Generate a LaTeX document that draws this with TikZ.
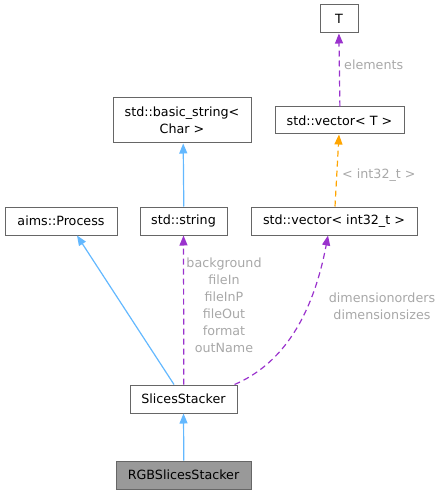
\documentclass[tikz,border=0pt]{standalone}
\usepackage{fontspec}
\setmainfont{DejaVu Sans}
\usetikzlibrary{arrows.meta}
\definecolor{boxborder}{HTML}{666666}
\definecolor{inhblue}{HTML}{63B8FF}
\definecolor{usepurple}{HTML}{9A32CD}
\definecolor{tplorange}{HTML}{FFA500}
\definecolor{lblgray}{HTML}{A8A8A8}
\definecolor{curfill}{HTML}{999999}
\tikzset{
  cls/.style={draw=boxborder, line width=1pt, fill=white, inner sep=0pt, align=center,
    font=\fontsize{12.7}{17}\selectfont, text=black},
  inh/.style={draw=inhblue, line width=1.2pt, -{Triangle[length=10pt,width=8pt,fill=inhblue]}},
  use/.style={draw=usepurple, line width=1.2pt, dash pattern=on 6pt off 4pt, -{Triangle[length=10pt,width=8pt,fill=usepurple]}},
  tpl/.style={draw=tplorange, line width=1.2pt, dash pattern=on 6pt off 4pt, -{Triangle[length=10pt,width=8pt,fill=tplorange]}},
  lbl/.style={text=lblgray, font=\fontsize{12.7}{17}\selectfont, inner sep=0pt, align=center},
}
\begin{document}
\begin{tikzpicture}[x=1pt,y=-1pt]
\useasboundingbox (0,0) rectangle (442,494);
\node[cls, minimum width=38pt, minimum height=28pt] (T) at (339,19) {T};
\node[cls, minimum width=129pt, minimum height=27pt] (vecT) at (339.5,120.5) {std::vector< T >};
\node[cls, minimum width=138pt, minimum height=45pt] (bstr) at (182,120.5) {std::basic\_string<\\Char >};
\node[cls, minimum width=112pt, minimum height=28pt] (proc) at (61,221) {aims::Process};
\node[cls, minimum width=87pt, minimum height=28pt] (str) at (183.5,221) {std::string};
\node[cls, minimum width=166pt, minimum height=28pt] (vecI) at (334,221) {std::vector< int32\_t >};
\node[cls, minimum width=107pt, minimum height=28pt] (sl) at (183.5,399) {SlicesStacker};
\node[cls, fill=curfill, minimum width=135pt, minimum height=28pt] (rgb) at (183.5,475) {RGBSlicesStacker};

\draw[use] ([xshift=0.4pt]vecT.north) -- ([xshift=-0.1pt]T.south);
\node[lbl, anchor=west] (lelem) at (344,65) {elements};
\draw[tpl] ([xshift=1pt]vecI.north) -- ([xshift=-0.5pt]vecT.south);
\node[lbl, anchor=west] (ltpl) at (342,175) {< int32\_t >};
\draw[inh] ([xshift=0.3pt]str.north) -- ([xshift=1.2pt]bstr.south);
\draw[inh] ([xshift=-9.5pt]sl.north) -- ([xshift=16pt]proc.south);
\draw[use] ([xshift=0.3pt]sl.north) -- (str.south);
\node[lbl, anchor=north] (lstr) at (224,258) {background\\fileIn\\fileInP\\fileOut\\format\\outName};
\draw[use] ([xshift=51pt]sl.north) .. controls (280,365) and (312,320) .. ([xshift=-6pt]vecI.south);
\node[lbl, anchor=north] (ldim) at (382,293) {dimensionorders\\dimensionsizes};
\draw[inh] ([xshift=0.3pt]rgb.north) -- (sl.south);
\end{tikzpicture}
\end{document}
